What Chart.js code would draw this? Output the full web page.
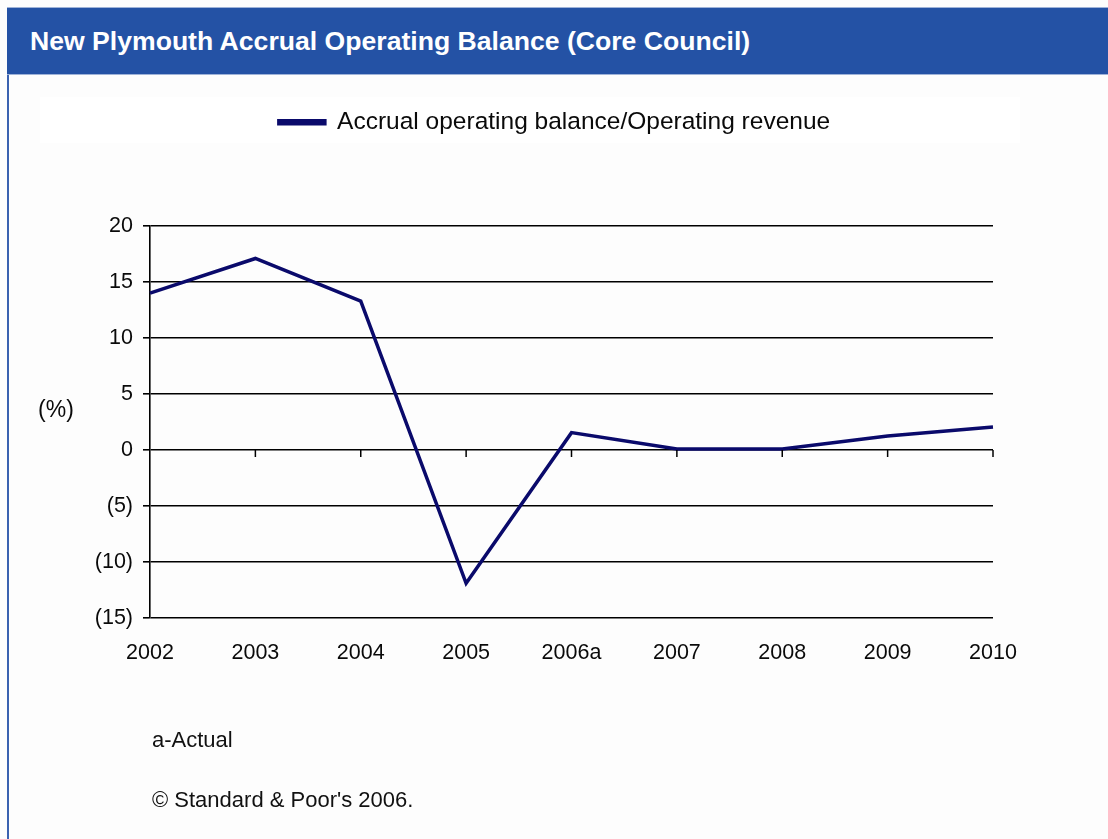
<!DOCTYPE html>
<html>
<head>
<meta charset="utf-8">
<script src="https://cdn.jsdelivr.net/npm/chart.js@4.4.0/dist/chart.umd.min.js"></script>
<style>
    body { margin: 0; background: #fdfdfd; font-family: "Liberation Sans", Arial, sans-serif; }
    .page { position: relative; width: 1108px; height: 839px; overflow: hidden; }
    .entete {
        position: absolute; left: 7px; top: 7px; width: 1101px; height: 68px;
        background: #2452a5; border-top: 1px solid #9fb3d8; border-bottom: 1px solid #9fb3d8;
        color: #fff; font-weight: bold; font-size: 26.6px; line-height: 66px;
        padding-left: 23px; box-sizing: border-box;
    }
    .bord { position: absolute; left: 7px; top: 75px; width: 2px; height: 764px; background: #3b62b0; }
    .cadre-legende { position: absolute; left: 40px; top: 97px; width: 980px; height: 46px; background: #fff; }
    .note { position: absolute; left: 152px; font-size: 22px; color: #111; }
    canvas { position: absolute; left: 0; top: 0; }
</style>
</head>
<body>
<div class="page">
    <div class="entete">New Plymouth Accrual Operating Balance (Core Council)</div>
    <div class="bord"></div>
    <div class="cadre-legende"></div>
    <canvas id="graphique-solde" width="1108" height="839"></canvas>
    <div class="note" style="top: 727px;">a-Actual</div>
    <div class="note" style="top: 787px;">© Standard &amp; Poor's 2006.</div>
</div>
<script>
// Données
const annees = ["2002", "2003", "2004", "2005", "2006a", "2007", "2008", "2009", "2010"];
const soldeOperationnel = [14.0, 17.1, 13.3, -11.9, 1.55, 0.1, 0.1, 1.25, 2.05];
const nomSerie = "Accrual operating balance/Operating revenue";
const titreAxeY = "(%)";
const graduationsY = [-15, -10, -5, 0, 5, 10, 15, 20];

const police = "'Liberation Sans', Arial, sans-serif";

// Petites graduations sur la ligne du zéro + titre horizontal de l'axe Y
const pluginAxeZero = {
    id: "axeZero",
    afterDraw(chart) {
        const ctx = chart.ctx;
        const x = chart.scales.x;
        const y = chart.scales.y;
        const y0 = y.getPixelForValue(0);
        ctx.save();
        ctx.strokeStyle = "#000";
        ctx.lineWidth = 1.5;
        for (let i = 1; i < annees.length; i++) {
            const px = x.getPixelForValue(i);
            ctx.beginPath();
            ctx.moveTo(px, y0);
            ctx.lineTo(px, y0 + 7);
            ctx.stroke();
        }
        ctx.fillStyle = "#0a0a0a";
        ctx.font = "23px " + police;
        ctx.textAlign = "center";
        ctx.textBaseline = "middle";
        ctx.fillText(titreAxeY, 56, y.getPixelForValue(3.5));
        ctx.restore();
    }
};

// Légende : hauteur forcée pour caler le haut du tracé, et décalée vers la droite
const pluginLegende = {
    id: "placementLegende",
    beforeInit(chart) {
        const fitOrigine = chart.legend.fit;
        chart.legend.fit = function () {
            fitOrigine.bind(chart.legend)();
            this.height = 131;
        };
    },
    afterLayout(chart) {
        const legende = chart.legend;
        legende.left = 116;
        legende.width = legende.right - legende.left;
    }
};

const config = {
    type: "line",
    data: {
        labels: annees,
        datasets: [{
            label: nomSerie,
            data: soldeOperationnel,
            borderColor: "#0a0a6b",
            backgroundColor: "#0a0a6b",
            borderWidth: 3.5,
            pointRadius: 0,
            tension: 0,
        }],
    },
    options: {
        responsive: false,
        animation: false,
        layout: { padding: { top: 95, left: 0, right: 115, bottom: 0 } },
        plugins: {
            legend: {
                position: "top",
                labels: {
                    boxWidth: 46,
                    boxHeight: 3,
                    padding: 15,
                    color: "#0a0a0a",
                    font: { family: police, size: 24.5 },
                },
            },
            tooltip: { enabled: false },
        },
        scales: {
            x: {
                offset: false,
                grid: { display: false, drawTicks: false },
                border: { display: false },
                ticks: { color: "#0a0a0a", font: { family: police, size: 21.5 }, padding: 22, maxRotation: 0 },
                afterFit(scale) { scale.height = 839 - 618; },
            },
            y: {
                min: -15,
                max: 20,
                afterBuildTicks(scale) { scale.ticks = graduationsY.map(v => ({ value: v })); },
                grid: { color: "#000", lineWidth: 1.6, tickLength: 7 },
                border: { display: true, color: "#000", width: 1.6 },
                ticks: {
                    color: "#0a0a0a",
                    padding: 10,
                    font: { family: police, size: 21.5 },
                    callback: v => v < 0 ? "(" + (-v) + ")" : String(v),
                },
                afterFit(scale) { scale.width = 150; },
            },
        },
    },
    plugins: [pluginAxeZero, pluginLegende],
};

new Chart(document.querySelector("#graphique-solde"), config);
</script>
</body>
</html>
